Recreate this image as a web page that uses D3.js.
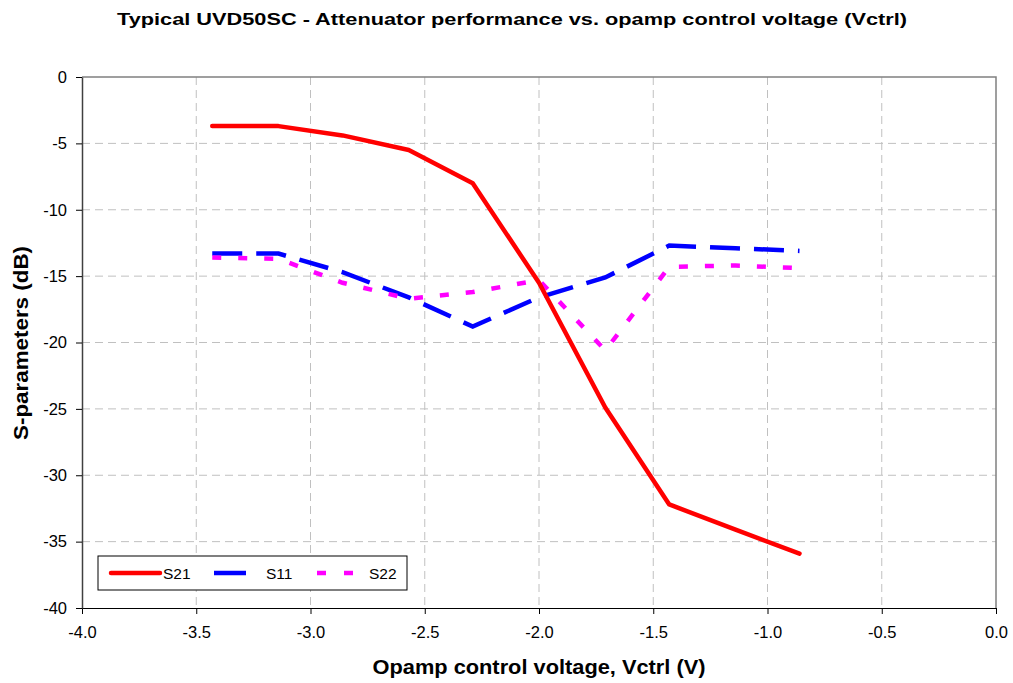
<!DOCTYPE html>
<html><head><meta charset="utf-8">
<script src="https://cdn.jsdelivr.net/npm/d3@7"></script>
<style>body{margin:0;background:#fff}svg{display:block}text{font-family:"Liberation Sans",Arial,sans-serif}</style>
</head><body><svg id="c" width="1013" height="683"></svg>
<script>
const vctrl = [-3.43, -3.14, -2.86, -2.57, -2.29, -2.0, -1.71, -1.43, -1.14, -0.86];
const s21 = [-3.7, -3.7, -4.4, -5.5, -8.0, -15.5, -24.9, -32.2, -34.1, -35.9];
const s11 = [-13.3, -13.3, -14.7, -16.6, -18.8, -16.6, -15.1, -12.7, -12.9, -13.1];
const s22 = [-13.6, -13.7, -15.5, -16.7, -16.2, -15.3, -20.6, -14.3, -14.2, -14.4];
const xTicks = [-4.0, -3.5, -3.0, -2.5, -2.0, -1.5, -1.0, -0.5, 0.0];
const yTicks = [0, -5, -10, -15, -20, -25, -30, -35, -40];
const seriesNames = ["S21", "S11", "S22"];

const FF = "'Liberation Sans', Arial, sans-serif";
const svg = d3.select("#c");
const L = 82, R = 996, T = 77, B = 608;
const x = d3.scaleLinear().domain([-4, 0]).range([L, R]);
const y = d3.scaleLinear().domain([-40, 0]).range([B, T]);

// grid
svg.append("g").selectAll("line").data(xTicks.slice(1, -1)).join("line")
  .attr("x1", d => x(d)).attr("x2", d => x(d)).attr("y1", T).attr("y2", B)
  .attr("stroke", "#c0c0c0").attr("stroke-width", 1).attr("stroke-dasharray", "8,5");
svg.append("g").selectAll("line").data(yTicks.slice(1, -1)).join("line")
  .attr("x1", L).attr("x2", R).attr("y1", d => y(d)).attr("y2", d => y(d))
  .attr("stroke", "#c0c0c0").attr("stroke-width", 1).attr("stroke-dasharray", "8,5");

// frame top/right
svg.append("path").attr("d", `M${L},${T}H${R}V${B}`).attr("fill", "none").attr("stroke", "#808080").attr("stroke-width", 1.5);

// axes
const xAxis = d3.axisBottom(x).tickValues(xTicks).tickFormat(d3.format(".1f")).tickSize(6).tickSizeOuter(0);
const gx = svg.append("g").attr("transform", `translate(0,${B})`).call(xAxis);
gx.attr("font-family", FF);
gx.select(".domain").attr("stroke", "#000").attr("stroke-width", 1.2);
gx.selectAll(".tick line").attr("stroke", "#000");
gx.selectAll("text").attr("font-size", 16.5).attr("fill", "#000").attr("y", 13).attr("dy", "1em")
  .text(d => d3.format(".1f")(d).replace("−", "-"));

const yAxis = d3.axisLeft(y).tickValues(yTicks).tickSize(6).tickSizeOuter(0);
const gy = svg.append("g").attr("transform", `translate(${L},0)`).call(yAxis);
gy.attr("font-family", FF);
gy.select(".domain").attr("stroke", "#404040").attr("stroke-width", 1.5);
gy.selectAll(".tick line").attr("stroke", "#000");
gy.selectAll("text").attr("font-size", 16.5).attr("fill", "#000").attr("x", -15)
  .text(d => String(d).replace("−", "-"));

// lines
const line = d3.line().x((d, i) => x(vctrl[i])).y(d => y(d));
svg.append("path").datum(s11).attr("d", line).attr("fill", "none").attr("stroke", "#0000ff")
  .attr("stroke-width", 4.5).attr("stroke-dasharray", "30,14");
svg.append("path").datum(s22).attr("d", line).attr("fill", "none").attr("stroke", "#ff00ff")
  .attr("stroke-width", 4.5).attr("stroke-dasharray", "9,17");
svg.append("path").datum(s21).attr("d", line).attr("fill", "none").attr("stroke", "#ff0000")
  .attr("stroke-width", 4.5).attr("stroke-linejoin", "round").attr("stroke-linecap", "round");

// legend
const lg = svg.append("g");
lg.append("rect").attr("x", 98).attr("y", 556).attr("width", 309).attr("height", 34)
  .attr("fill", "#fff").attr("stroke", "#000").attr("stroke-width", 1);
const legItems = [
  {name: seriesNames[0], color: "#ff0000", x1: 111, x2: 160, dash: null, cap: "round", tx: 163},
  {name: seriesNames[1], color: "#0000ff", x1: 214, x2: 246, dash: null, cap: "butt", tx: 266},
  {name: seriesNames[2], color: "#ff00ff", x1: 317, x2: 353, dash: "9,18", cap: "butt", tx: 369}
];
legItems.forEach(d => {
  lg.append("line").attr("x1", d.x1).attr("x2", d.x2).attr("y1", 573).attr("y2", 573)
    .attr("stroke", d.color).attr("stroke-width", 4.5).attr("stroke-linecap", d.cap)
    .attr("stroke-dasharray", d.dash);
  lg.append("text").attr("x", d.tx).attr("y", 579).attr("font-size", 15.5).text(d.name);
});

// titles
svg.append("text").attr("x", 512).attr("y", 25).attr("text-anchor", "middle")
  .attr("font-size", 17).attr("font-weight", "bold").attr("textLength", 790).attr("lengthAdjust", "spacingAndGlyphs")
  .text("Typical UVD50SC - Attenuator performance vs. opamp control voltage (Vctrl)");
svg.append("text").attr("x", 539).attr("y", 674).attr("text-anchor", "middle")
  .attr("font-size", 20).attr("font-weight", "bold").attr("textLength", 333).attr("lengthAdjust", "spacingAndGlyphs")
  .text("Opamp control voltage, Vctrl (V)");
svg.append("text").attr("transform", "translate(28,343) rotate(-90)").attr("text-anchor", "middle")
  .attr("font-size", 21).attr("font-weight", "bold").attr("textLength", 194).attr("lengthAdjust", "spacingAndGlyphs")
  .text("S-parameters (dB)");
</script></body></html>
